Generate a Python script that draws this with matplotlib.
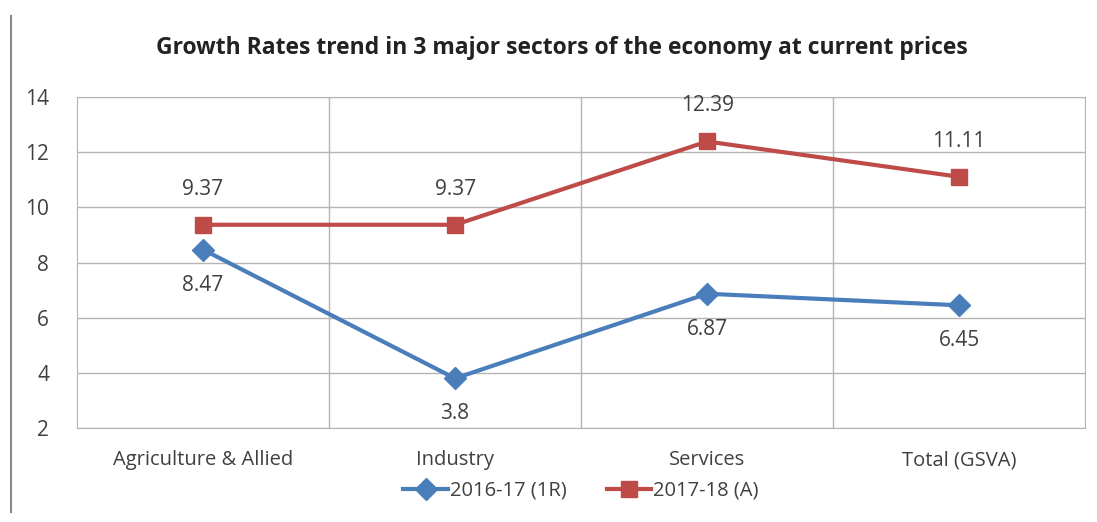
import matplotlib.pyplot as plt
from matplotlib.lines import Line2D

plt.rcParams['font.family'] = ['Open Sans', 'DejaVu Sans']

sectors = ['Agriculture & Allied', 'Industry', 'Services', 'Total (GSVA)']
growth_1617 = [8.47, 3.8, 6.87, 6.45]
growth_1718 = [9.37, 9.37, 12.39, 11.11]
yticks = [2, 4, 6, 8, 10, 12, 14]

blue = '#4a7ebb'
red = '#be4b48'
grid_col = '#b4b4b4'
txt = '#404040'

fig = plt.figure(figsize=(10.97, 5.22), dpi=100)
ax = fig.add_axes([0.0702, 0.180, 0.919, 0.634])

x = list(range(len(sectors)))
ax.plot(x, growth_1617, color=blue, lw=3, marker='D', ms=11,
        label='2016-17 (1R)', zorder=3)
ax.plot(x, growth_1718, color=red, lw=3, marker='s', ms=12,
        label='2017-18 (A)', zorder=3)

for xi, v in zip(x, growth_1617):
    ax.annotate(f'{v:g}', (xi, v), xytext=(0, -18), textcoords='offset points',
                ha='center', va='top', fontsize=15, color=txt)
for xi, v in zip(x, growth_1718):
    ax.annotate(f'{v:g}', (xi, v), xytext=(0, 18), textcoords='offset points',
                ha='center', va='bottom', fontsize=15, color=txt)

ax.set_xlim(-0.5, len(sectors) - 0.5)
ax.set_ylim(2, 14)
ax.set_yticks(yticks)
ax.set_xticks(x)
ax.set_xticklabels(sectors, fontsize=14.5, color=txt)
ax.tick_params(axis='y', labelsize=15, labelcolor=txt, length=0, pad=20)
ax.tick_params(axis='x', length=0, pad=16)

# category separators and horizontal grid
for b in [0.5, 1.5, 2.5]:
    ax.axvline(b, color=grid_col, lw=1, zorder=1)
ax.yaxis.grid(True, color=grid_col, lw=1, zorder=1)
ax.set_axisbelow(True)
for s in ax.spines.values():
    s.set_color(grid_col)

fig.text(0.512, 0.908,
         'Growth Rates trend in 3 major sectors of the economy at current prices',
         ha='center', va='center', fontsize=16.5, fontweight='bold', color='#222222')

ax.legend(loc='upper center', bbox_to_anchor=(0.5, -0.105), ncol=2,
          frameon=False, fontsize=14.5, handlelength=2.2, columnspacing=2.0,
          handletextpad=0.1, labelcolor=txt)

fig.add_artist(Line2D([0.010, 0.010], [0.02, 0.97], color='#888888', lw=1.5))

fig.savefig('out.png', dpi=100, facecolor='white')
